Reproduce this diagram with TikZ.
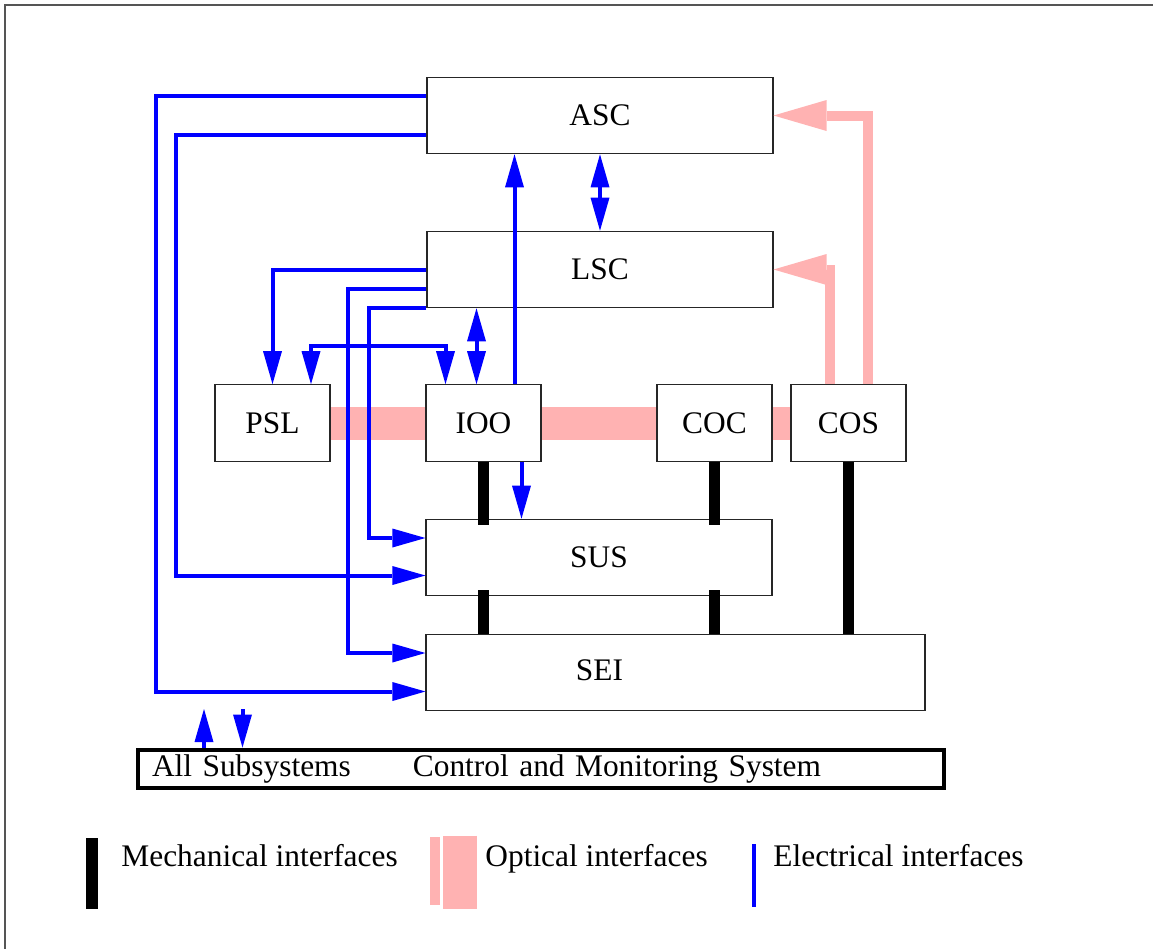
\documentclass[tikz,border=0pt]{standalone}
\usepackage{fontspec}
\setmainfont{Liberation Serif}
\usepackage{xcolor}
\usetikzlibrary{arrows.meta, positioning, calc, backgrounds}

\definecolor{elecblue}{RGB}{0,0,255}
\definecolor{optpink}{RGB}{255,178,178}
\definecolor{framegray}{RGB}{85,85,85}

\tikzset{
  box/.style={draw=black!85, fill=white, line width=0.6pt, inner sep=0pt, minimum width=57.5pt, minimum height=38.25pt},
  widebox/.style={box, minimum width=173pt},
  elec/.style={color=elecblue, line width=2pt, >={Triangle[length=16.5pt, width=9.5pt, line width=0pt]}},
  opt/.style={color=optpink, line width=5pt, >={Triangle[length=26.5pt, width=15.5pt, line width=0pt]}},
  mech/.style={color=black, line width=5.5pt},
  keytext/.style={anchor=base west, inner sep=0pt}
}

\begin{document}
\begin{tikzpicture}[x=0.5pt, y=-0.5pt, font=\fontsize{15.7pt}{19pt}\selectfont]
\useasboundingbox (0,0) rectangle (1153,949);
% Frame
\draw[framegray, line width=1pt] (5,949) -- (5,5) -- (1153,5);

% Subsystems
\node[widebox] (asc) at (600,115.5) {ASC};
\node[widebox] (lsc) at (600,269.5) {LSC};
\node[box] (psl) at (272.5,423) {PSL};
\node[box] (ioo) at (483.5,423) {IOO};
\node[box] (coc) at (714.5,423) {COC};
\node[box] (cos) at (848.5,423) {COS};
\node[widebox] (sus) at (599,557.5) {SUS};
\node[box, minimum width=249.5pt] (sei) at (675.5,672.5) {};
\node (seitext) at ([xshift=-38pt, yshift=1pt]sei.center) {SEI};
\node[draw=black, line width=2pt, fill=white, inner xsep=7pt, inner ysep=0pt,
      minimum height=19.25pt, text width=389pt, align=left] (cms) at (541,768.75)
      {All Subsystems\hspace{31pt}Control and Monitoring System};

% Optical interfaces
\begin{scope}[on background layer]
  \draw[opt, line width=16.5pt] (psl.east) -- (cos.west);
\end{scope}
\draw[opt, ->] ($(cos.north)+(-19,0)$) |- (lsc.east);
\draw[opt, ->] ($(cos.north)+(19.5,0)$) |- (asc.east);

% Mechanical interfaces
\foreach \blk in {ioo, coc} {
  \draw[mech, shorten >=-3pt] (\blk.south) -- (\blk.south |- sus.north);
  \draw[mech, shorten <=-3pt] (\blk.south |- sus.south) -- (\blk.south |- sei.north);
}
\draw[mech] (cos.south) -- (cos.south |- sei.north);

% Electrical interfaces
\draw[elec, ->] ($(asc.west)+(0,-19.5)$) -- ++(-270,0) |- ($(sei.west)+(0,19)$);
\draw[elec, ->] ($(asc.west)+(0,19)$) -- ++(-250,0) |- ($(sus.west)+(0,18)$);
\draw[elec, ->] (lsc.west) -| (psl.north);
\draw[elec, ->] ($(lsc.west)+(0,19)$) -- ++(-78,0) |- ($(sei.west)+(0,-19.5)$);
\draw[elec, ->] ($(lsc.west)+(0,38)$) -- ++(-57,0) |- ($(sus.west)+(0,-19.5)$);
\draw[elec, <->] ($(psl.north)+(38.5,0)$) -- ++(0,-38) -| ($(ioo.north)+(-38,0)$);
\draw[elec, <->] ($(ioo.north)+(-7,0)$) -- ($(ioo.north |- lsc.south)+(-7,0)$);
\draw[elec, ->] ($(ioo.north)+(31,0)$) -- ($(ioo.north |- asc.south)+(31,0)$);
\draw[elec, <->] (asc.south) -- (lsc.north);
\draw[elec, ->] ($(ioo.south)+(38,0)$) -- ($(ioo.south |- sus.north)+(38,0)$);

% Links to the control system
\coordinate (cmsup) at (204,709);
\coordinate (cmsdown) at (242.5,709);
\draw[elec, ->] (cmsup |- cms.north) -- (cmsup);
\draw[elec, ->] (cmsdown) -- (cmsdown |- cms.north);

% Legend
\draw[mech, line width=6pt] (92,838) -- (92,909);
\node[keytext] (mechkey) at (121,866) {Mechanical interfaces};
\draw[opt] (434.5,837) -- (434.5,905);
\draw[opt, line width=17pt] (460,835.5) -- (460,909);
\node[keytext] (optkey) at (485,866) {Optical interfaces};
\draw[elec] (754,844) -- (754,907);
\node[keytext] (eleckey) at (773,866) {Electrical interfaces};
\end{tikzpicture}
\end{document}
